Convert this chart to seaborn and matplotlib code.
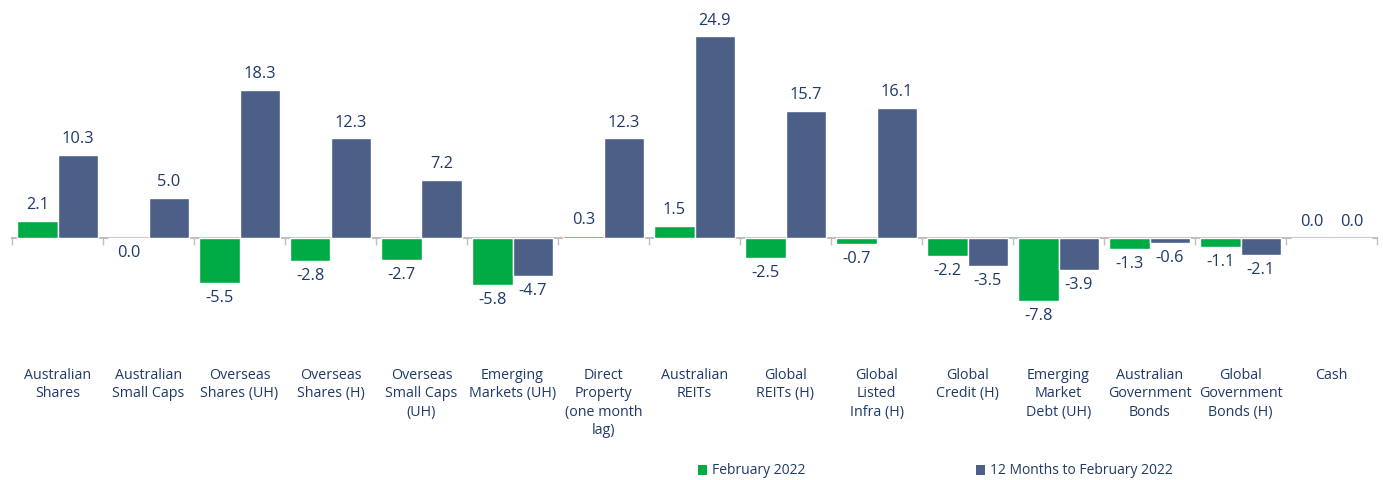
import matplotlib
matplotlib.use("Agg")
import matplotlib.pyplot as plt
from matplotlib.patches import Patch
import seaborn as sns
import pandas as pd

categories = ["Australian\nShares", "Australian\nSmall Caps", "Overseas\nShares (UH)", "Overseas\nShares (H)",
              "Overseas\nSmall Caps\n(UH)", "Emerging\nMarkets (UH)", "Direct\nProperty\n(one month\nlag)",
              "Australian\nREITs", "Global\nREITs (H)", "Global\nListed\nInfra (H)", "Global\nCredit (H)",
              "Emerging\nMarket\nDebt (UH)", "Australian\nGovernment\nBonds", "Global\nGovernment\nBonds (H)", "Cash"]
feb_2022 = [2.1, -0.02, -5.5, -2.8, -2.7, -5.8, 0.3, 1.5, -2.5, -0.7, -2.2, -7.8, -1.3, -1.1, 0.02]
twelve_months = [10.3, 5.0, 18.3, 12.3, 7.2, -4.7, 12.3, 24.9, 15.7, 16.1, -3.5, -3.9, -0.6, -2.1, 0.02]
series_names = ["February 2022", "12 Months to February 2022"]

GREEN = "#00AA44"
BLUE = "#4C5F87"
TEXT = "#1F3A66"
AXIS = "#BFBFBF"

sns.set_theme(style="white")
plt.rcParams["font.family"] = ["Open Sans", "DejaVu Sans"]

n = len(categories)
df = pd.DataFrame({
    "cat": list(range(n)) * 2,
    "value": feb_2022 + twelve_months,
    "series": [series_names[0]] * n + [series_names[1]] * n,
})

W, H = 1383, 480
fig = plt.figure(figsize=(W / 100, H / 100), dpi=100)
ax = fig.add_axes([12 / W, 0.3015, (1377 - 12) / W, 0.6585])

sns.barplot(data=df, x="cat", y="value", hue="series", hue_order=series_names,
            palette=[GREEN, BLUE], width=0.88, ax=ax, legend=False, saturation=1)

ax.set_xlim(-0.5, n - 0.5)
ax.set_ylim(-12, 27)
for s in ["top", "right", "left"]:
    ax.spines[s].set_visible(False)
ax.spines["bottom"].set_position(("data", 0))
ax.spines["bottom"].set_color(AXIS)
ax.spines["bottom"].set_linewidth(1.5)
ax.spines["bottom"].set_zorder(0.5)
ax.set_yticks([])
ax.set_xticks([i - 0.5 for i in range(n + 1)])
ax.set_xticklabels([])
ax.tick_params(axis="x", direction="out", length=5, width=1, color=AXIS, bottom=True)
ax.set_xlabel("")
ax.set_ylabel("")

def fmt(v):
    s = f"{v:.1f}"
    return "0.0" if s == "-0.0" else s

for cont in ax.containers:
    for bar in cont:
        v = bar.get_y() + bar.get_height() if bar.get_y() >= 0 else bar.get_y()
        x = bar.get_x() + bar.get_width() / 2
        if v >= 0:
            ax.annotate(fmt(v), (x, v), xytext=(0, 5.5), textcoords="offset points",
                        ha="center", va="bottom", fontsize=11.8, color=TEXT)
        else:
            ax.annotate(fmt(v), (x, v), xytext=(0, -5), textcoords="offset points",
                        ha="center", va="top", fontsize=11.8, color=TEXT)

trans = matplotlib.transforms.blended_transform_factory(ax.transData, fig.transFigure)
for i, c in enumerate(categories):
    ax.text(i, 1 - 368 / H, c, transform=trans, ha="center", va="top", fontsize=10.3,
            color=TEXT, linespacing=1.3)

handles = [Patch(facecolor=GREEN, edgecolor="none"), Patch(facecolor=BLUE, edgecolor="none")]
leg = fig.legend(handles, series_names, loc="center", bbox_to_anchor=(935 / W, 1 - 471 / H),
                 ncol=2, frameon=False, fontsize=10, handlelength=0.7, handleheight=0.7,
                 handletextpad=0.3, columnspacing=12.3)
for t in leg.get_texts():
    t.set_color(TEXT)

fig.savefig("out.png", dpi=100)
